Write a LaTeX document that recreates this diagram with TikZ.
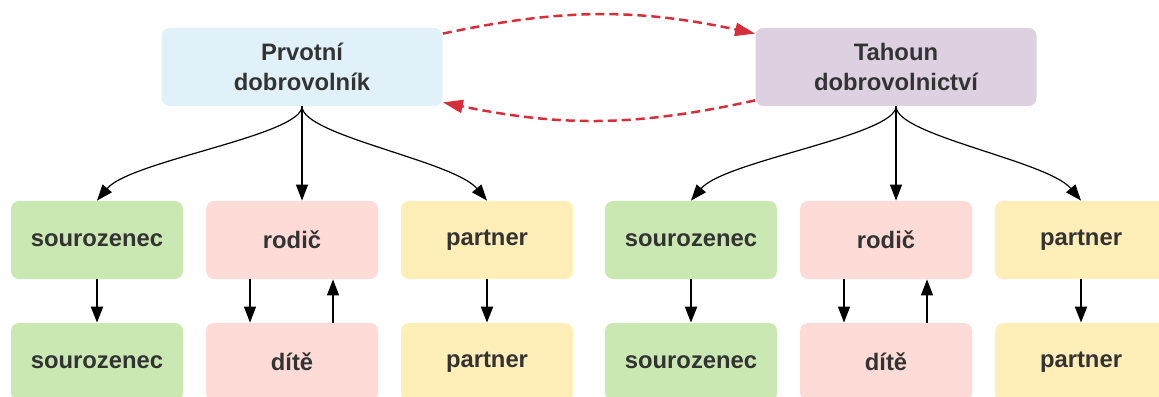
\documentclass[tikz,border=0pt]{standalone}
\usepackage{fontspec}
\setmainfont{Liberation Sans}
\usetikzlibrary{arrows.meta}
\definecolor{modra}{HTML}{E0F1F9}
\definecolor{fialova}{HTML}{DDD0E1}
\definecolor{zelena}{HTML}{CAE8B2}
\definecolor{ruzova}{HTML}{FEDBD7}
\definecolor{zluta}{HTML}{FFEEB8}
\definecolor{sedy}{HTML}{333333}
\definecolor{cervena}{HTML}{D42F3B}
\begin{document}
\begin{tikzpicture}[x=0.5pt,y=0.5pt,>={Triangle[length=8pt,width=6pt]},
	font=\fontsize{11.9}{15}\selectfont\bfseries, line join=round,
	box/.style={rectangle, rounded corners=4pt, minimum width=86pt, minimum height=39pt, inner sep=0pt, text=sedy, align=center},
	hlavni/.style={box, minimum width=140.5pt},
	vetev/.style={->, line width=0.6pt},
	silna/.style={->, line width=1.1pt},
	prechod/.style={-{Triangle[length=10pt,width=6.5pt]}, cervena, line width=1.25pt, dash pattern=on 4.5pt off 2.5pt}]
	\useasboundingbox (0,0) rectangle (1159,396);
	\def\yA{329} \def\yB{156} \def\yC{34} % radky
	\node[hlavni,fill=modra] (p) at (302,\yA) {Prvotní\\dobrovolník};
	\node[hlavni,fill=fialova] (t) at (896,\yA) {Tahoun\\dobrovolnictví};
	\foreach \g/\o in {p/0,t/594}{
		\node[box,fill=zelena] (\g S) at (97+\o,\yB) {sourozenec};
		\node[box,fill=ruzova] (\g R) at (292+\o,\yB) {rodič};
		\node[box,fill=zluta] (\g P) at (487+\o,\yB) {partner};
		\node[box,fill=zelena] (\g S2) at (97+\o,\yC) {sourozenec};
		\node[box,fill=ruzova] (\g D) at (292+\o,\yC) {dítě};
		\node[box,fill=zluta] (\g P2) at (487+\o,\yC) {partner};
		\draw[vetev] (\g.south) to[out=-90,in=50,out distance=14.5pt,in distance=26pt] (\g S.north);
		\draw[vetev] (\g.south) -- (\g.south |- \g R.north);
		\draw[vetev] (\g.south) to[out=-90,in=130,out distance=14.5pt,in distance=26pt] (\g P.north);
		\draw[silna] (\g S) -- (\g S2);
		\draw[vetev] ([xshift=-21pt]\g R.south) -- ([xshift=-21pt]\g D.north);
		\draw[vetev] ([xshift=20.5pt]\g D.north) -- ([xshift=20.5pt]\g R.south);
		\draw[silna] (\g P) -- (\g P2);
	}
	\draw[prechod] ([yshift=-3pt]p.north east) to[bend left=12] ([yshift=-3pt]t.north west);
	\draw[prechod] ([yshift=3pt]t.south west) to[bend left=12] ([yshift=2pt]p.south east);
\end{tikzpicture}
\end{document}
